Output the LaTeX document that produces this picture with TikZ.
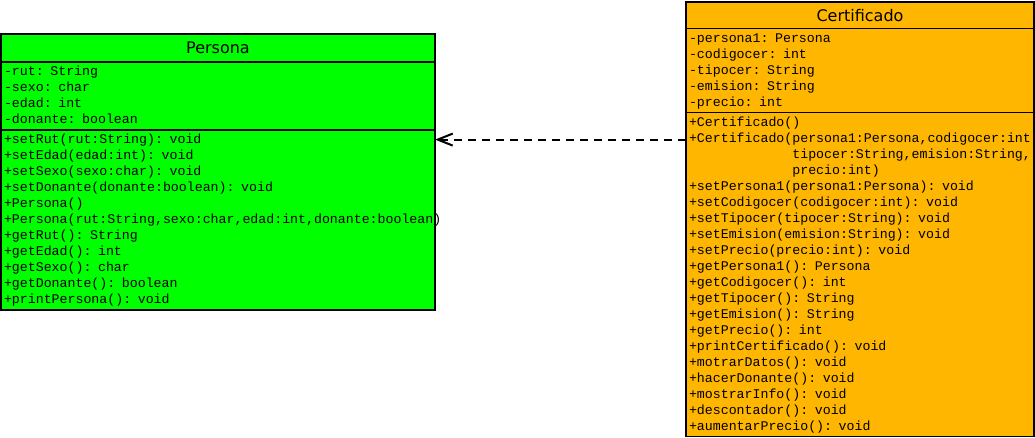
\documentclass[tikz,border=0pt]{standalone}
\usepackage{fontspec}
\usepackage{tikz}
\usetikzlibrary{positioning,arrows.meta}
\newfontfamily\umlsans{DejaVu Sans}
\newfontfamily\umlmono{Liberation Mono}
\definecolor{personagreen}{RGB}{0,255,0}
\definecolor{certorange}{RGB}{255,182,0}
\newcommand{\umlstrut}{\rule[-4bp]{0pt}{16bp}}

\begin{document}
\begin{tikzpicture}[x=1bp,y=-1bp]
        \tikzstyle{every node}=[draw, line width=1.8bp, inner xsep=3bp, inner ysep=2bp, outer sep=0bp, anchor=north west]
        \tikzstyle{classname}=[font=\umlsans\fontsize{16bp}{19bp}\selectfont, align=center]
        \tikzstyle{members}=[font=\umlmono\fontsize{13.25bp}{16bp}\selectfont, align=left, execute at begin node={\hyphenpenalty=10000\relax\umlstrut}, execute at end node=\umlstrut]
        \tikzstyle{dependency}=[line width=2bp, dash pattern=on 8bp off 6bp, -{Straight Barb[length=15bp,width=12bp]}]

        \useasboundingbox (0,0) rectangle (1035,438);

        % clase Persona
        \node   (persona)      [classname, fill=personagreen, text width=428bp, minimum height=28.3bp] at (1,33.7) {Persona};
        \node   (personaattr)  [members, fill=personagreen, text width=428bp, below=0bp of persona]
            {-rut: String\\-sexo: char\\-edad: int\\-donante: boolean};
        \node   (personameth)  [members, fill=personagreen, text width=428bp, below=0bp of personaattr]
            {+setRut(rut:String): void\\
             +setEdad(edad:int): void\\
             +setSexo(sexo:char): void\\
             +setDonante(donante:boolean): void\\
             +Persona()\\
             +Persona(rut:String,sexo:char,edad:int,donante:boolean)\\
             +getRut(): String\\
             +getEdad(): int\\
             +getSexo(): char\\
             +getDonante(): boolean\\
             +printPersona(): void};

        % clase Certificado
        \node   (cert)      [classname, fill=certorange, text width=342bp, minimum height=26.8bp] at (686,1.7) {Certificado};
        \node   (certattr)  [members, fill=certorange, text width=342bp, below=0bp of cert]
            {-persona1: Persona\\-codigocer: int\\-tipocer: String\\-emision: String\\-precio: int};
        \node   (certmeth)  [members, fill=certorange, text width=342bp, below=0bp of certattr]
            {+Certificado()\\
             +Certificado(persona1:Persona,codigocer:int\\
             \hphantom{+Certificado(}tipocer:String,emision:String,\\
             \hphantom{+Certificado(}precio:int)\\
             +setPersona1(persona1:Persona): void\\
             +setCodigocer(codigocer:int): void\\
             +setTipocer(tipocer:String): void\\
             +setEmision(emision:String): void\\
             +setPrecio(precio:int): void\\
             +getPersona1(): Persona\\
             +getCodigocer(): int\\
             +getTipocer(): String\\
             +getEmision(): String\\
             +getPrecio(): int\\
             +printCertificado(): void\\
             +motrarDatos(): void\\
             +hacerDonante(): void\\
             +mostrarInfo(): void\\
             +descontador(): void\\
             +aumentarPrecio(): void};

        % dependencia
        \draw[dependency] ([yshift=-9.6bp]personameth.north east -| certmeth.west) -- ([yshift=-9.6bp]personameth.north east);

\end{tikzpicture}
\end{document}
